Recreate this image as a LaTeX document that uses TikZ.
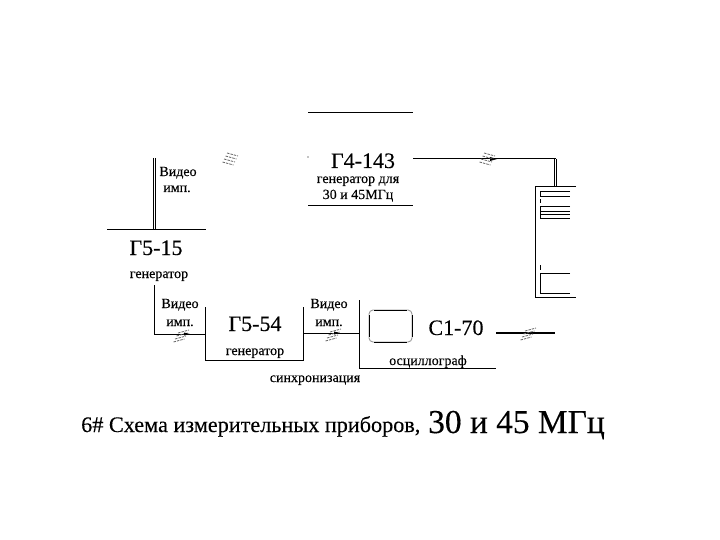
\documentclass[tikz,border=0pt]{standalone}
\usepackage{fontspec}
\setmainfont{Liberation Serif}
\newfontfamily\heavyface[FakeBold=0.25]{Liberation Serif}
\begin{document}
\begin{tikzpicture}[x=1pt,y=-1pt,
  wire/.style={line width=1pt,black},
  dbl/.style={line width=0.9pt,black},
  thick wire/.style={line width=2.2pt,black},
  model/.style={anchor=base,inner sep=0pt,font=\heavyface\fontsize{22}{22}\selectfont},
  small/.style={anchor=base,inner sep=0pt,font=\heavyface\fontsize{14}{14}\selectfont},
  hatchdown/.pic={\foreach \d in {0,1,2,3}{\draw[black!60,line width=0.8pt,dash pattern=on 2.5pt off 1pt] (-6-1.5*\d,-6+3*\d) -- (5-1.5*\d,-3+3*\d);}},
  hatchup/.pic={\foreach \d in {0,1,2,3}{\draw[black!60,line width=0.8pt,dash pattern=on 2.5pt off 1pt] (-6-1.5*\d,-3+3*\d) -- (5-1.5*\d,-6+3*\d);}}
]
\useasboundingbox (0,0) rectangle (720,540);
% coordinates
\coordinate (t1) at (308,113); \coordinate (t2) at (413,113);
\coordinate (b1) at (308,206); \coordinate (b2) at (413,206);
\coordinate (o) at (413,159); \coordinate (c) at (555.5,159); \coordinate (r) at (555.5,187);
% Г4-143
\draw[wire] (t1) -- (t2);
\draw[wire] (b1) -- (b2);
\fill (308,157) circle (0.7);
\node[model] (g4) at (363,168) {Г4-143};
\node[small] (g4a) at (358,183) {генератор для};
\node[small] (g4b) at (358,199) {30 и 45МГц};
\draw[wire] (o) -- (c);
\draw[dbl] (554.7,159) -- (554.7,187);
\draw[dbl] (556.5,159) -- (556.5,187);
\fill (497,159) -- (490,157) -- (490,161) -- cycle;
\pic at (490,159) {hatchdown};
% right box
\draw[wire] (576,187) -- (535,187) -- (535,297) -- (576,297);
\draw[wire] (570,191.5) -- (540,191.5) -- (540,197) (540,196.5) -- (570,196.5);
\draw[wire] (540,199.5) -- (540,203);
\draw[wire] (570,206.5) -- (540,206.5) -- (540,219) -- (570,219);
\draw[wire] (540,211.5) -- (570,211.5);
\draw[wire] (540,214.5) -- (570,214.5);
\draw[wire] (540,265) -- (540,270);
\draw[wire] (570,273) -- (540,273) -- (540,293.5) -- (570,293.5);
% Г5-15
\coordinate (h1) at (107,230); \coordinate (h2) at (206,230);
\draw[wire] (h1) -- (h2);
\draw[dbl] (153.5,158) -- (153.5,230);
\draw[dbl] (155.5,158) -- (155.5,230);
\node[small] (v1) at (178,176) {Видео};
\node[small] (i1) at (177,192) {имп.};
\node[model] (g5) at (156,255) {Г5-15};
\node[small] (g5a) at (159,278) {генератор};
\pic at (233,159) {hatchdown};
% Г5-54
\draw[wire] (154,285) -- (154,334) -- (205,334);
\draw[wire] (205,307) -- (205,360) -- (303,360) -- (303,307);
\draw[wire] (303,333) -- (359,333);
\node[small] (v2) at (180,308) {Видео};
\node[small] (i2) at (180,326) {имп.};
\node[small] (v3) at (329,308) {Видео};
\node[small] (i3) at (329,326) {имп.};
\node[model] (g54) at (255,331) {Г5-54};
\node[small] (g54a) at (255,355) {генератор};
\pic at (184,336) {hatchup};
\pic at (336,335) {hatchup};
\fill (190,334) -- (184,332.5) -- (184,335.5) -- cycle;
\fill (340,333) -- (334,331.5) -- (334,334.5) -- cycle;
% С1-70
\draw[wire] (359,300) -- (359,368) -- (496,368);
\draw[black!40,line width=0.9pt,rounded corners=4pt] (369,310) rectangle (412,342);
\draw[line width=0.9pt] (374,310) -- (407,310) (374,342) -- (407,342) (369,315) -- (369,337) (412,315) -- (412,337);
\node[model] (c1) at (456,335) {С1-70};
\node[small] (c1a) at (428,365) {осциллограф};
\node[small] (sync) at (315,382) {синхронизация};
\draw[thick wire] (496,333) -- (555,333);
\pic at (531,334) {hatchup};
% caption
\node[anchor=base west,inner sep=0pt,font=\heavyface\fontsize{22.2}{24}\selectfont] (cap1) at (81,432) {6\# Схема измерительных приборов,};
\node[anchor=base west,inner sep=0pt,font=\heavyface\fontsize{33.4}{34}\selectfont] (cap2) at (428,433) {30 и 45 МГц};
\end{tikzpicture}
\end{document}
